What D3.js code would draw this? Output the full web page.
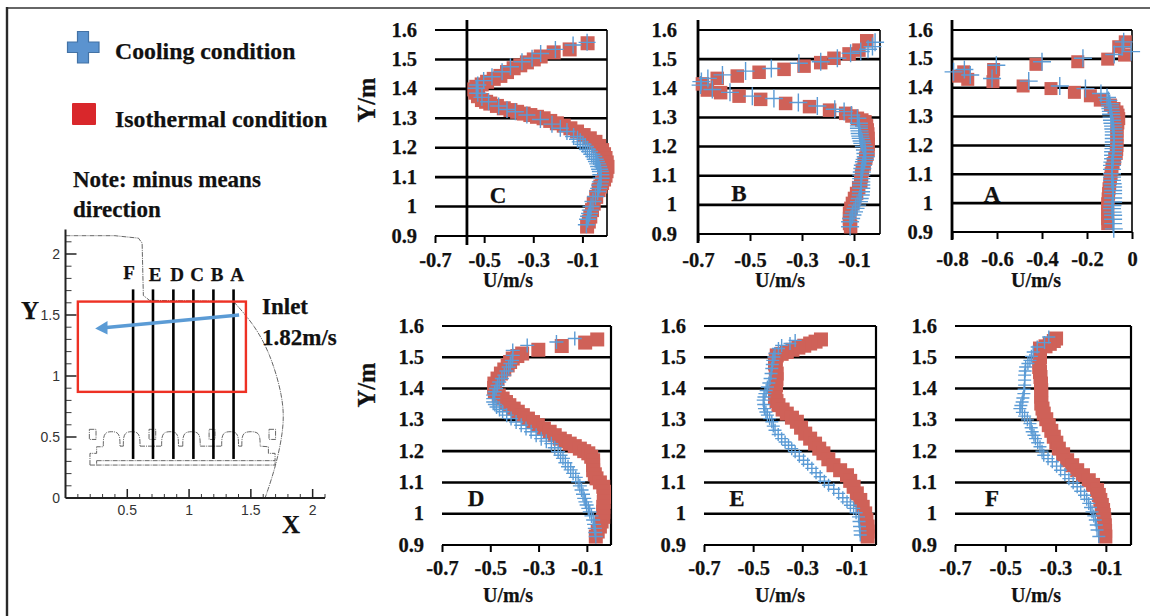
<!DOCTYPE html>
<html><head><meta charset="utf-8">
<script src="https://cdnjs.cloudflare.com/ajax/libs/d3/7.8.5/d3.min.js"></script>
<style>html,body{margin:0;padding:0;background:#fff;overflow:hidden}svg{display:block}</style>
</head><body><svg id="c" width="1150" height="616"></svg>
<script>
// ---- data: [U, Y] ----
const isoC=[[-.079,1.555],[-.152,1.534],[-.217,1.524],[-.27,1.51],[-.298,1.5],[-.326,1.49],[-.353,1.48],[-.38,1.47],[-.407,1.457],[-.434,1.444],[-.461,1.434],[-.488,1.424],[-.51,1.415],[-.532,1.407],[-.54,1.398],[-.536,1.387],[-.525,1.375],[-.509,1.362],[-.492,1.356],[-.475,1.35],[-.448,1.342],[-.42,1.334],[-.393,1.328],[-.366,1.322],[-.339,1.316],[-.312,1.311],[-.285,1.305],[-.258,1.30],[-.231,1.291],[-.204,1.283],[-.176,1.275],[-.149,1.266],[-.122,1.255],[-.095,1.243],[-.07,1.232],[-.047,1.22],[-.032,1.206],[-.02,1.192],[-.012,1.178],[-.006,1.165],[-.001,1.15],[.002,1.135],[-.002,1.12],[-.006,1.105],[-.012,1.092],[-.02,1.08],[-.027,1.068],[-.034,1.056],[-.044,1.033],[-.054,1.01],[-.061,.988],[-.068,.966],[-.074,.949],[-.081,.932]];
const coolC=[[-.081,1.558],[-.138,1.549],[-.21,1.534],[-.27,1.52],[-.305,1.504],[-.346,1.492],[-.393,1.475],[-.427,1.458],[-.468,1.441],[-.502,1.428],[-.526,1.413],[-.532,1.402],[-.526,1.385],[-.509,1.371],[-.482,1.356],[-.441,1.342],[-.407,1.33],[-.373,1.322],[-.326,1.311],[-.271,1.296],[-.224,1.28],[-.19,1.266],[-.163,1.255],[-.136,1.238],[-.12,1.229],[-.109,1.22],[-.098,1.212],[-.088,1.204],[-.08,1.195],[-.071,1.187],[-.062,1.178],[-.054,1.17],[-.048,1.161],[-.043,1.153],[-.038,1.145],[-.034,1.136],[-.03,1.127],[-.027,1.119],[-.025,1.108],[-.024,1.096],[-.027,1.084],[-.03,1.073],[-.034,1.062],[-.038,1.051],[-.047,1.034],[-.057,1.017],[-.065,1.0],[-.068,.988],[-.071,.977],[-.075,.967],[-.079,.957],[-.084,.938]];
const isoB=[[-.051,1.563],[-.081,1.531],[-.119,1.518],[-.177,1.503],[-.228,1.488],[-.292,1.476],[-.369,1.465],[-.465,1.455],[-.549,1.442],[-.626,1.434],[-.683,1.415],[-.664,1.394],[-.613,1.385],[-.542,1.373],[-.459,1.362],[-.363,1.348],[-.271,1.337],[-.194,1.325],[-.132,1.314],[-.108,1.305],[-.087,1.297],[-.07,1.291],[-.058,1.285],[-.052,1.271],[-.049,1.257],[-.047,1.243],[-.046,1.228],[-.046,1.208],[-.046,1.188],[-.05,1.174],[-.055,1.16],[-.061,1.14],[-.068,1.119],[-.071,1.099],[-.074,1.079],[-.082,1.059],[-.09,1.039],[-.098,1.022],[-.106,1.005],[-.112,.988],[-.117,.971],[-.117,.953],[-.117,.936],[-.113,.925]];
const coolB=[[-.019,1.558],[-.029,1.543],[-.046,1.534],[-.074,1.526],[-.113,1.52],[-.164,1.503],[-.228,1.491],[-.312,1.486],[-.418,1.468],[-.517,1.459],[-.606,1.446],[-.662,1.434],[-.687,1.423],[-.69,1.411],[-.645,1.396],[-.577,1.386],[-.491,1.373],[-.408,1.365],[-.314,1.351],[-.241,1.339],[-.174,1.328],[-.138,1.32],[-.11,1.308],[-.087,1.297],[-.081,1.28],[-.081,1.271],[-.081,1.263],[-.079,1.254],[-.078,1.245],[-.076,1.236],[-.074,1.228],[-.071,1.219],[-.068,1.211],[-.062,1.2],[-.058,1.188],[-.056,1.176],[-.055,1.165],[-.059,1.156],[-.062,1.148],[-.066,1.136],[-.068,1.125],[-.07,1.113],[-.072,1.102],[-.072,1.09],[-.072,1.079],[-.072,1.068],[-.072,1.057],[-.073,1.045],[-.074,1.034],[-.078,1.022],[-.081,1.011],[-.088,.999],[-.094,.988],[-.1,.976],[-.106,.965],[-.111,.953],[-.115,.942],[-.115,.925]];
const isoA=[[-.03,1.559],[-.059,1.542],[-.033,1.513],[-.108,1.499],[-.241,1.49],[-.427,1.481],[-.615,1.463],[-.748,1.455],[-.77,1.44],[-.73,1.429],[-.618,1.421],[-.484,1.406],[-.36,1.397],[-.256,1.384],[-.185,1.372],[-.141,1.357],[-.096,1.34],[-.08,1.328],[-.067,1.316],[-.062,1.305],[-.059,1.293],[-.063,1.278],[-.067,1.264],[-.067,1.25],[-.067,1.235],[-.067,1.218],[-.067,1.2],[-.068,1.186],[-.07,1.172],[-.077,1.155],[-.084,1.137],[-.089,1.12],[-.093,1.102],[-.096,1.085],[-.099,1.068],[-.102,1.05],[-.104,1.033],[-.106,1.015],[-.108,.998],[-.108,.98],[-.108,.963],[-.108,.946],[-.108,.929]];
const coolA=[[-.037,1.559],[-.044,1.542],[-.004,1.525],[-.079,1.515],[-.218,1.502],[-.4,1.49],[-.603,1.478],[-.745,1.463],[-.793,1.455],[-.719,1.444],[-.622,1.432],[-.459,1.423],[-.321,1.406],[-.207,1.397],[-.138,1.38],[-.111,1.366],[-.105,1.356],[-.099,1.345],[-.098,1.337],[-.096,1.328],[-.094,1.318],[-.093,1.308],[-.091,1.298],[-.089,1.287],[-.087,1.277],[-.084,1.267],[-.083,1.257],[-.081,1.247],[-.081,1.236],[-.081,1.224],[-.081,1.212],[-.081,1.2],[-.082,1.189],[-.084,1.178],[-.084,1.166],[-.084,1.154],[-.087,1.142],[-.089,1.131],[-.089,1.117],[-.089,1.102],[-.089,1.09],[-.089,1.079],[-.086,1.067],[-.084,1.056],[-.084,1.044],[-.084,1.033],[-.084,1.018],[-.084,1.004],[-.087,.992],[-.089,.981],[-.086,.969],[-.084,.958],[-.084,.944],[-.084,.929],[-.081,.911]];
const isoD=[[-.057,1.557],[-.107,1.547],[-.204,1.536],[-.301,1.524],[-.368,1.512],[-.388,1.504],[-.407,1.496],[-.418,1.485],[-.428,1.474],[-.442,1.461],[-.456,1.448],[-.47,1.432],[-.483,1.416],[-.484,1.402],[-.481,1.389],[-.465,1.378],[-.449,1.368],[-.435,1.357],[-.421,1.347],[-.403,1.336],[-.386,1.326],[-.365,1.315],[-.344,1.304],[-.323,1.293],[-.303,1.283],[-.278,1.272],[-.254,1.262],[-.233,1.251],[-.212,1.24],[-.191,1.232],[-.171,1.224],[-.15,1.216],[-.129,1.208],[-.111,1.2],[-.094,1.193],[-.082,1.182],[-.074,1.171],[-.074,1.155],[-.074,1.139],[-.067,1.126],[-.06,1.113],[-.046,1.1],[-.032,1.086],[-.029,1.07],[-.029,1.054],[-.03,1.038],[-.032,1.022],[-.032,1.006],[-.032,.99],[-.039,.975],[-.046,.959],[-.055,.943],[-.063,.927]];
const coolD=[[-.15,1.56],[-.226,1.549],[-.347,1.538],[-.407,1.522],[-.407,1.506],[-.41,1.49],[-.417,1.48],[-.424,1.469],[-.433,1.456],[-.442,1.443],[-.452,1.432],[-.463,1.421],[-.47,1.41],[-.476,1.4],[-.482,1.39],[-.488,1.379],[-.488,1.368],[-.488,1.357],[-.481,1.349],[-.474,1.341],[-.462,1.333],[-.449,1.326],[-.432,1.315],[-.414,1.304],[-.393,1.293],[-.372,1.283],[-.352,1.272],[-.331,1.262],[-.31,1.251],[-.289,1.24],[-.268,1.232],[-.247,1.224],[-.233,1.211],[-.219,1.198],[-.209,1.187],[-.199,1.177],[-.189,1.163],[-.178,1.15],[-.167,1.14],[-.157,1.129],[-.146,1.116],[-.136,1.102],[-.129,1.089],[-.122,1.076],[-.116,1.062],[-.111,1.049],[-.106,1.038],[-.101,1.028],[-.094,1.017],[-.088,1.006],[-.081,.993],[-.074,.98],[-.07,.966],[-.067,.953],[-.065,.94],[-.063,.927]];
const isoE=[[-.224,1.557],[-.246,1.55],[-.268,1.544],[-.292,1.537],[-.316,1.531],[-.34,1.524],[-.363,1.517],[-.384,1.511],[-.404,1.506],[-.408,1.493],[-.411,1.48],[-.408,1.464],[-.404,1.448],[-.405,1.43],[-.407,1.411],[-.409,1.392],[-.411,1.373],[-.405,1.36],[-.397,1.347],[-.38,1.333],[-.363,1.32],[-.342,1.307],[-.322,1.294],[-.305,1.275],[-.288,1.256],[-.268,1.24],[-.248,1.224],[-.231,1.208],[-.214,1.193],[-.194,1.174],[-.173,1.155],[-.146,1.139],[-.118,1.123],[-.105,1.105],[-.091,1.086],[-.078,1.065],[-.064,1.044],[-.054,1.022],[-.044,1.001],[-.039,.98],[-.034,.959],[-.034,.943],[-.034,.927]];
const coolE=[[-.329,1.554],[-.35,1.544],[-.384,1.538],[-.397,1.528],[-.411,1.512],[-.416,1.501],[-.42,1.49],[-.422,1.477],[-.424,1.464],[-.427,1.448],[-.431,1.432],[-.436,1.418],[-.442,1.405],[-.447,1.394],[-.452,1.384],[-.456,1.373],[-.459,1.363],[-.457,1.349],[-.454,1.336],[-.448,1.325],[-.442,1.315],[-.433,1.304],[-.424,1.294],[-.418,1.28],[-.411,1.267],[-.398,1.253],[-.384,1.24],[-.37,1.229],[-.356,1.219],[-.343,1.208],[-.329,1.198],[-.312,1.184],[-.295,1.171],[-.278,1.158],[-.261,1.145],[-.244,1.131],[-.227,1.118],[-.21,1.104],[-.193,1.091],[-.172,1.078],[-.152,1.065],[-.135,1.051],[-.118,1.038],[-.104,1.027],[-.091,1.017],[-.081,1.003],[-.071,.99],[-.069,.975],[-.067,.959],[-.065,.945],[-.064,.932]];
const isoF=[[-.298,1.56],[-.307,1.552],[-.323,1.543],[-.34,1.535],[-.362,1.528],[-.362,1.515],[-.362,1.501],[-.364,1.485],[-.365,1.469],[-.362,1.453],[-.36,1.437],[-.358,1.416],[-.357,1.395],[-.357,1.374],[-.357,1.352],[-.352,1.336],[-.347,1.32],[-.337,1.302],[-.327,1.283],[-.317,1.265],[-.307,1.246],[-.297,1.227],[-.287,1.208],[-.27,1.19],[-.254,1.171],[-.234,1.155],[-.214,1.139],[-.191,1.123],[-.168,1.107],[-.151,1.092],[-.135,1.076],[-.128,1.06],[-.122,1.044],[-.116,1.028],[-.111,1.012],[-.108,.996],[-.106,.98],[-.104,.963],[-.103,.945],[-.102,.927]];
const coolF=[[-.327,1.565],[-.344,1.547],[-.373,1.533],[-.389,1.517],[-.396,1.503],[-.402,1.49],[-.41,1.48],[-.419,1.469],[-.421,1.456],[-.423,1.443],[-.423,1.427],[-.423,1.411],[-.425,1.398],[-.426,1.384],[-.43,1.37],[-.433,1.357],[-.438,1.346],[-.442,1.336],[-.432,1.324],[-.423,1.312],[-.412,1.3],[-.402,1.288],[-.397,1.275],[-.393,1.262],[-.386,1.251],[-.38,1.24],[-.371,1.227],[-.362,1.214],[-.354,1.2],[-.347,1.187],[-.33,1.176],[-.313,1.166],[-.296,1.152],[-.28,1.139],[-.263,1.125],[-.247,1.112],[-.23,1.099],[-.214,1.086],[-.2,1.072],[-.185,1.059],[-.176,1.046],[-.168,1.033],[-.161,1.02],[-.155,1.006],[-.148,.993],[-.142,.98],[-.138,.964],[-.135,.948],[-.128,.927]];
const yTicks=[.9,1,1.1,1.2,1.3,1.4,1.5,1.6];
const xTicks7=[-.7,-.5,-.3,-.1];
const xTicks8=[-.8,-.6,-.4,-.2,0];
const sliceX=[.547,.708,.873,1.035,1.197,1.36];
const sliceNames=["F","E","D","C","B","A"];
const sliceLabelX=[129,155,177,197,217,237];
const wallTop=[[0,2.15],[.4,2.15],[.59,2.13],[.62,2.09],[.63,1.66],[.68,1.62],[1.36,1.61]];
const wallCurve=[[1.36,1.61],[1.52,1.43],[1.655,1.19],[1.76,.83],[1.77,.58],[1.70,.25],[1.615,0]];
const floor=[[.198,.27],[.198,.366],[.252,.366],[.252,.42],[.306,.42]];
const floorBase=[[.252,.306],[1.696,.306],[1.696,.366],[1.642,.366],[1.642,.42],[1.575,.425]];
const floorLow=[[.252,.27],[1.696,.27],[1.696,.306]];
const bumps=[[.306,.441],[.468,.603],[.778,.914],[.949,1.09],[1.264,1.40],[1.427,1.575]];
const boxes=[[.193,.247],[.676,.73],[1.162,1.21],[1.647,1.70]];

// ---- drawing ----
const svg=d3.select("#c");
const serif="'Liberation Serif','Times New Roman',serif";
const BLUE="#5b9bd5",RED="#cf6158";
svg.append("rect").attr("width",1150).attr("height",616).attr("fill","#fff");
svg.append("line").attr("x1",7).attr("x2",1150).attr("y1",8).attr("y2",8).attr("stroke","#666").attr("stroke-width",2);
svg.append("line").attr("x1",7).attr("x2",7).attr("y1",7).attr("y2",616).attr("stroke","#2a2a2a").attr("stroke-width",2.4);

function txt(s,x,y,size,anchor,g){return (g||svg).append("text").attr("x",x).attr("y",y).attr("font-family",serif).attr("font-weight","bold").attr("font-size",size).attr("text-anchor",anchor||"start").attr("fill","#111").attr("stroke","#111").attr("stroke-width",.25).text(s);}

const panels=[
 {n:"C",iso:isoC,cool:coolC,dom:[-.7,0],x:[435,607],y:[236,30],ticks:xTicks7,vAt:-.57,vY:[20,245],rightThin:true,lab:[498,203],ul:[508,287],tb:267,yl:417,ylab:[367,100],sq:14,arm:8.5},
 {n:"B",iso:isoB,cool:coolB,dom:[-.7,0],x:[698,880],y:[234,30],ticks:xTicks7,vAt:-.7,vY:[20,243],rightThin:true,lab:[739,201],ul:[780,287],tb:267,yl:677,sq:13.5,arm:9},
 {n:"A",iso:isoA,cool:coolA,dom:[-.8,0],x:[952,1132],y:[232,30],ticks:xTicks8,vAt:-.8,vY:[20,240],rightThin:true,lab:[992,202],ul:[1036,287],tb:266,yl:933,sq:13,arm:9},
 {n:"D",iso:isoD,cool:coolD,dom:[-.7,0],x:[442,611],y:[545,326],ticks:xTicks7,vAt:0,vY:[326,545],lab:[476,506],ul:[508,602],tb:575,yl:424,ylab:[367,385],sq:14,arm:7},
 {n:"E",iso:isoE,cool:coolE,dom:[-.7,0],x:[704,876],y:[545,326],ticks:xTicks7,vAt:0,vY:[326,545],lab:[737,506],ul:[780,602],tb:575,yl:686,sq:14,arm:6.5},
 {n:"F",iso:isoF,cool:coolF,dom:[-.7,0],x:[955,1131],y:[545,326],ticks:xTicks7,vAt:0,vY:[326,545],lab:[992,506],ul:[1036,602],tb:575,yl:937,sq:14,arm:6.5}
];
panels.forEach(p=>{
 const x=d3.scaleLinear().domain(p.dom).range(p.x), y=d3.scaleLinear().domain([.9,1.6]).range(p.y);
 const g=svg.append("g").attr("class","panel-"+p.n);
 g.selectAll("line.h").data(yTicks).join("line").attr("class","h")
  .attr("x1",p.x[0]).attr("x2",p.x[1]).attr("y1",d=>y(d)).attr("y2",d=>y(d))
  .attr("stroke","#000").attr("stroke-width",d=>d===.9||d===1.6?2:2.6);
 g.append("line").attr("x1",x(p.vAt)).attr("x2",x(p.vAt)).attr("y1",p.vY[0]).attr("y2",p.vY[1]).attr("stroke","#000").attr("stroke-width",p.vAt===0?2.2:2.8);
 if(p.rightThin) g.append("line").attr("x1",p.x[1]).attr("x2",p.x[1]).attr("y1",p.y[1]).attr("y2",p.y[0]).attr("stroke","#000").attr("stroke-width",1.6);
 const ax=g.append("g").attr("transform",`translate(0,${p.y[0]})`).call(d3.axisBottom(x).tickValues(p.ticks).tickSize(7).tickFormat(d=>d===0?"0":d3.format(".1f")(d).replace("−","-")));
 ax.select(".domain").remove();
 ax.selectAll("line").attr("stroke","#000").attr("stroke-width",2);
 ax.selectAll("text").attr("y",null).attr("dy",null).attr("transform",`translate(0,${p.tb-p.y[0]})`).attr("font-family",serif).attr("font-weight","bold").attr("font-size",20.5).attr("fill","#111").attr("stroke","#111").attr("stroke-width",.25);
 g.selectAll("text.yl").data(yTicks).join("text").attr("class","yl").attr("x",p.yl).attr("y",d=>y(d)+6.5)
  .attr("text-anchor","end").attr("font-family",serif).attr("font-weight","bold").attr("font-size",20.5).attr("fill","#111").attr("stroke","#111").attr("stroke-width",.25)
  .text(d=>d===1?"1":d3.format(".1f")(d));
 g.selectAll("rect.iso").data(p.iso).join("rect").attr("class","iso").attr("x",d=>x(d[0])-p.sq/2).attr("y",d=>y(d[1])-p.sq/2).attr("width",p.sq).attr("height",p.sq).attr("fill",RED);
 g.selectAll("path.cool").data(p.cool).join("path").attr("class","cool")
  .attr("d",d=>`M${x(d[0])-p.arm},${y(d[1])}h${2*p.arm}M${x(d[0])},${y(d[1])-p.arm}v${2*p.arm}`).attr("stroke",BLUE).attr("stroke-width",1.4).attr("fill","none");
 txt(p.n,p.lab[0],p.lab[1],23,"middle",g);
 txt("U/m/s",p.ul[0],p.ul[1],20,"middle",g);
 if(p.ylab) txt("Y/m",0,0,24.5,"middle",g).attr("transform",`translate(${p.ylab[0]+8},${p.ylab[1]}) rotate(-90)`);
});

// legend
const lg=svg.append("g");
lg.append("path").attr("d","M77.5,31.5h11v10.5h10.5v10.5h-10.5v10.5h-11v-10.5h-10v-10.5h10z").attr("fill","#5b93cf").attr("stroke","#4372a5").attr("stroke-width",1.2);
lg.append("rect").attr("x",72).attr("y",103).attr("width",24).attr("height",22).attr("rx",1).attr("fill","#d9272b");
txt("Cooling condition",115,59,23.8);
txt("Isothermal condition",115,127,23.8);
txt("Note: minus means",73,187,23);
txt("direction",73,217,23);

// left diagram
const dx=d3.scaleLinear().domain([0,2.1]).range([65.5,325]);
const dy=d3.scaleLinear().domain([0,2.2]).range([498,229.6]);
const d=svg.append("g");
const ln=d3.line().x(v=>dx(v[0])).y(v=>dy(v[1]));
const dash={stroke:"#555","stroke-width":.9,"stroke-dasharray":"5 1 1 1",fill:"none"};
function st(s){Object.entries(dash).forEach(([k,v])=>s.attr(k,v));return s;}
st(d.append("path").attr("d",ln(wallTop)));
st(d.append("path").attr("d",ln.curve(d3.curveBasis)(wallCurve)));
ln.curve(d3.curveLinear);
st(d.append("path").attr("d",ln(floor)));
st(d.append("path").attr("d",ln(floorBase)));
st(d.append("path").attr("d",ln(floorLow)));
st(d.append("path").attr("d",ln([[.198,.27],[.252,.27],[.252,.306]])));
bumps.forEach(b=>{
 const m=(b[0]+b[1])/2;
 st(d.append("path").attr("d",ln.curve(d3.curveBasis)([[b[0],.425],[b[0],.5],[b[0]+.02,.54],[m,.545],[b[1]-.02,.54],[b[1],.5],[b[1],.425]])));
});
ln.curve(d3.curveLinear);
st(d.append("path").attr("d",ln([[.441,.425],[.468,.425]])));
st(d.append("path").attr("d",ln([[.603,.425],[.778,.425]])));
st(d.append("path").attr("d",ln([[.914,.425],[.949,.425]])));
st(d.append("path").attr("d",ln([[1.09,.425],[1.264,.425]])));
st(d.append("path").attr("d",ln([[1.40,.425],[1.427,.425]])));
boxes.forEach(b=>st(d.append("rect").attr("x",dx(b[0])).attr("width",dx(b[1])-dx(b[0])).attr("y",dy(.563)).attr("height",dy(.48)-dy(.563))));
const axG=d.append("g").attr("stroke","#222");
axG.append("line").attr("x1",dx(0)).attr("x2",dx(2.1)).attr("y1",dy(0)).attr("y2",dy(0)).attr("stroke-width",2);
axG.append("line").attr("x1",dx(0)).attr("x2",dx(0)).attr("y1",dy(0)).attr("y2",dy(2.2)).attr("stroke-width",2);
const minor=d3.range(1,22).map(v=>v/10);
axG.selectAll("line.tx").data(minor).join("line").attr("class","tx").attr("x1",v=>dx(v)).attr("x2",v=>dx(v)).attr("y1",dy(0)).attr("y2",v=>dy(0)-(Math.round(v*10)%5===0?9:4)).attr("stroke-width",v=>Math.round(v*10)%5===0?1.5:.9);
axG.selectAll("line.ty").data(minor).join("line").attr("class","ty").attr("y1",v=>dy(v)).attr("y2",v=>dy(v)).attr("x1",dx(0)).attr("x2",v=>dx(0)+(Math.round(v*10)%5===0?11:6)).attr("stroke-width",v=>Math.round(v*10)%5===0?1.5:.9);
const sans="'Liberation Sans',Arial,sans-serif";
d.selectAll("text.dxl").data([.5,1,1.5,2]).join("text").attr("class","dxl").attr("x",v=>dx(v)).attr("y",515).attr("text-anchor","middle").attr("font-family",sans).attr("font-size",14).attr("fill","#333").text(v=>v);
d.selectAll("text.dyl").data([0,.5,1,1.5,2]).join("text").attr("class","dyl").attr("x",60).attr("y",v=>dy(v)+5).attr("text-anchor","end").attr("font-family",sans).attr("font-size",14).attr("fill","#333").text(v=>v);
d.selectAll("line.sl").data(sliceX).join("line").attr("class","sl").attr("x1",v=>dx(v)).attr("x2",v=>dx(v)).attr("y1",dy(1.71)).attr("y2",dy(.32)).attr("stroke","#000").attr("stroke-width",2.6);
sliceNames.forEach((s,i)=>txt(s,sliceLabelX[i],i===0?279:281,19,"middle",d));
d.append("rect").attr("x",dx(.1)).attr("y",dy(1.61)).attr("width",dx(1.46)-dx(.1)).attr("height",dy(.87)-dy(1.61)).attr("fill","none").attr("stroke","#ee3124").attr("stroke-width",2.4);
d.append("line").attr("x1",dx(1.405)).attr("y1",dy(1.5)).attr("x2",dx(.31)).attr("y2",dy(1.395)).attr("stroke",BLUE).attr("stroke-width",3.6);
d.append("path").attr("d",`M${dx(.24)},${dy(1.39)}L${dx(.34)},${dy(1.45)}L${dx(.34)},${dy(1.34)}Z`).attr("fill",BLUE);
txt("Inlet",262,314,23);
txt("1.82m/s",262,345,23);
txt("Y",21,319,25);
txt("X",282,533,25);
</script></body></html>
